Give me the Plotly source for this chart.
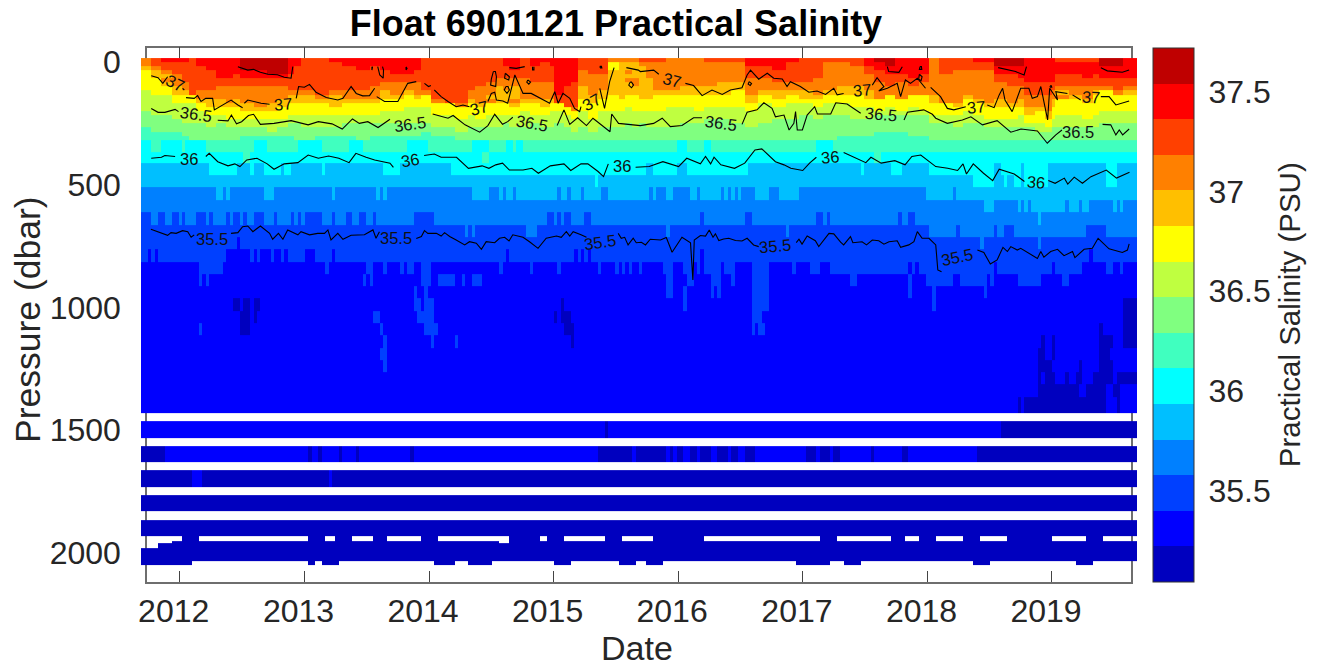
import pandas as pd
import plotly.graph_objects as go

# ---------- data ----------
N_PROFILES = 292
FIRST_PROFILE = "2011-09-08"
CYCLE_DAYS = 10

band_codes = "abcdefghijklmno"
band_colors = ["#0000bf", "#0000ff", "#0040ff", "#0080ff", "#00bfff", "#00ffff", "#40ffbf", "#80ff80",
               "#bfff40", "#ffff00", "#ffbf00", "#ff8000", "#ff4000", "#ff0000", "#bf0000"]
sal_min = 35.044
sal_max = 37.72
sal_ticks = [35.5, 36, 36.5, 37, 37.5]

# pressure edges (dbar) of the cells, top to bottom
upper_edges = [-16, 0, 16, 33, 49, 65, 81, 98, 114, 134, 151, 167, 183, 200, 216, 232, 248, 265, 285, 301, 318]
mid_edges = [365, 410, 460, 511, 562, 612, 664, 713, 762, 813, 863, 912, 962, 1013, 1063, 1112, 1164, 1214,
             1263, 1313, 1363, 1428]
deep_edges = [1462, 1532, 1564, 1629, 1662, 1731, 1764, 1829, 1866, 1931, 1951, 1960, 1980, 2033, 2049]

# upper 20 levels: profile starting at a cycle number, held until the next entry
upper_profiles = [
    (0, "llkjjjjjiiiiihhhhggg"), (3, "mmlkkjjjjiiiiihhhhgg"), (6, "nmmlklkjjiiiiihhhhgg"),
    (9, "nmmmlllkkjjiiiihhhgg"), (12, "nmmmmmllkjjiiiiihhhg"), (14, "mmmmmmmmmjjiiiiihhhh"),
    (16, "nnmmmmmmllkjjiiihhhh"), (19, "nnnmmmmmllkkjjiiihhh"), (22, "nnnnnmmlllkkjjiihhhh"),
    (25, "nnnnnmmllllkjjjiihhh"), (27, "nnnnmmmlllkkjjjiihhh"), (29, "ooonnmmllllkkjjiihhg"),
    (33, "ooonnmmlllllkjjiihhg"), (37, "oooonmmllllkkjjiiihg"), (40, "oooonmmlllkkjjjiihhg"),
    (43, "nnnnmmmmlkkjjjiihhhg"), (45, "nnmmmmmmlkkjjjiihhhh"), (47, "mmmmmmmmlkkjjjiiihhh"),
    (51, "mmmmmmmmmlkjjjiiihhg"), (55, "nmmmmmmmlkkkjjiiihhg"), (59, "nnmmmmmmllkjjjiihhhg"),
    (63, "nnnmmmmmllkjjjiihhhh"), (67, "nnmmmmmlllkjjjiihhhg"), (70, "nnnmmmllkkjjjiiihhhg"),
    (73, "nnnnmmlllkjjjiiihhhg"), (77, "nnnnmmllkjjjiiiihhhg"), (80, "nnnmmmlllkjjiiiihhhg"),
    (82, "mmmmmmmmljjjiiiihhgg"), (85, "mmmmmmmmmmljjjiiihhg"), (89, "mmmmmmmmmmmjjjiiihhg"),
    (92, "mmmmmmmmmmmljjjiiihh"), (96, "mmmmmmmmllkjjjiiihhh"), (98, "mmmmmmmllllkjjjiihhh"),
    (101, "mmmmmmlllkljjjiiihhh"), (104, "mmmmmllkkkkjjjiiihhh"), (106, "nnmmmlllkkkjjjiihhhh"),
    (108, "nnnmmllkkklkjjiiihhh"), (111, "mmmmmlllllkjjiiiihhh"), (114, "nnmmmmllllkjjjiihhhh"),
    (117, "nmmmmmllllkkjjiiihhh"), (120, "nnmmmmllllkjjiiiihhh"), (121, "nnnnnnnnnmmjjiiihhhh"),
    (124, "nnnnnnnmmmmmjjiiihhh"), (126, "nnnnnnmmmmmmljjiiihh"), (128, "mmmllllkkkjjjiiiihhh"),
    (131, "mmmmlllllkkjjjjiiihh"), (134, "mmmmllllkkjjjiiiihhh"), (137, "ljjkkkkkkjjjjiiiihhh"),
    (140, "lkkkkkkkkkjjjiiiihhh"), (142, "lkklklkkkjjjiiiihhhh"), (144, "lkkkkllkkjjjjiiiihhh"),
    (146, "mlkkkkkkkkjjjiiihhhh"), (148, "mllllkkkkkjjjiiiihhh"), (150, "mlllllllkjjjjiiiihhh"),
    (154, "llllllllkjjjiiiiihhh"), (158, "lllllllkkjjjiiiihhhh"), (162, "lllllllkkjjjjiiihhhh"),
    (165, "mllllllkkjjjiiihhhhh"), (169, "mlllllkkkjjjiiihhhhh"), (173, "mlllllkkjjjjiiiihhhh"),
    (177, "nnmmmllllkkjjiiiihhh"), (181, "nnmmmlllkjjiiiiihhhh"), (185, "nnnmmmllkkjjiiihhhhh"),
    (189, "nmmmmmllkjjiiiihhhhh"), (193, "mmmmmmllkkjiiihhhhhh"), (197, "mmmmmllllkjjiiihhhhh"),
    (200, "mlllllllkjjiiihhhhhh"), (204, "mllllllkkjjiiihhhhhg"), (208, "mmlllllkkjjjiiihhhhg"),
    (212, "nnmmllllkkjjiiihhhhg"), (215, "onnmmmlllljjjihhhhgg"), (218, "oonnmmmlljjjiihhhhgg"),
    (221, "nnnnmmlllljjjihhhhgg"), (225, "nnnnnmmlljjjiihhhhhg"), (228, "nnnnmmllljjjjihhhhhg"),
    (231, "lllllllllkkjjjiihhhh"), (234, "mmmmllllllljjjiihhhh"), (238, "mmmllllllllkjjiiihhh"),
    (241, "mmmllllllkjjjiiihhhh"), (244, "nmmlllllllkjjjiihhhh"), (247, "nmmllllllllkjjjiihhh"),
    (250, "oonnmmllllkkjjjiihhh"), (254, "oonnmmmllllkjjjiihhh"), (257, "oonnnmmlllkkjjiiihhh"),
    (259, "nnnnnnmmmlllkkjjihhh"), (262, "nnnnnnmmmlllkjjjiihh"), (265, "nnnnnnmmmllllkkjjihh"),
    (267, "nnnnnnmmllkkjjjiihhh"), (268, "mnnnmmmlkljjjjiiihhh"), (272, "mnnnmmmllkjjjjiiihhh"),
    (276, "mnnnnmmlllkjjjjiihhh"), (279, "mnnnmmmlkjjjjjiiihhh"), (281, "oonnnmmljjjjjiiihhhh"),
    (285, "oonnnmmmljjjjiiihhhh"), (288, "nnnnnmmlkjjjjiiihhhh"),
]

# 50 dbar levels: base band, then band:cycle ranges (end exclusive)
mid_levels = [
    "g f:0-3,6-12,13-19,33-37,46-53,61-65,78-84,97-102,107-109,110-112,157-160,165-167,198-203",
    "f g:30-32,100-102,215-217",
    "e f:20-28,32-33,36-41,42-44,53-54,71-76,91-148,150-157,160-178,211-212,220-223,231-250,252-258,259-266,283-286",
    "e f:133-134,244-250,253-254,256-258,259-266,283-286",
    "d e:22-24,25-26,36-39,56-57,69-70,71-72,97-102,105-106,107-109,110-122,123-125,126-129,130-135,137-149,150-151,"
    "154-156,161-163,164-170,171-172,173-174,175-176,180-184,187-193,230-238,239-292",
    "d e:247-250,257-258,259-260,261-271,272-275,276-278,285-286,287-288",
    "d c:0-3,5-7,9-11,12-13,16-19,20-21,25-26,27-29,30-31,33-36,39-40,44-45,46-47,48-53,56-57,60-62,64-66,68-69,80-86,"
    "119-121,122-123,124-126,130-132,164-165,177-179,198-200,201-202,222-223,225-227 e:263-264",
    "c d:95-96,97-98,113-116,154-155,189-190,231-239,240-250,251-253,256-277,283-292",
    "c d:246-247,263-264 b:28-29",
    "c b:2-3,4-5,25-32,33-34,35-38,39-41,42-43,48-51,56-57,107-108,127-128,129-130,131-132,164-165,278-279",
    "b c:17-24,54-55,66-68,71-72,76-77,78-80,82-85,105-106,114-115,122-123,134-135,139-140,141-142,143-144,146-147,"
    "153-156,159-162,163-164,165-170,171-174,179-184,191-192,196-199,202-225,226-227,228-250,251-267,268-276,"
    "283-285,287-288",
    "b c:17-18,19-20,65-66,67-68,82-85,87-92,94-95,97-100,154-155,155-156,160-162,167-168,168-169,169-170,173-174,"
    "179-184,208-210,225-226,230-238,240-248,249-250,257-264,270-272",
    "b c:80-81,83-84,154-155,155-156,159-160,167-168,169-170,179-184,225-226,232-233,247-248",
    "b c:80-82,83-86,159-160,179-184,232-233 a:27-29,30-32,33-35,123-124,288-292",
    "b c:68-70,81-86,179-182 a:29-32,33-34,121-122,123-126,288-292",
    "b c:17-18,70-71,83-87,179-180,181-183 a:29-32,124-127,281-282,288-292",
    "b c:71-72,85-86,92-93 a:126-127,264-265,267-268,281-285,288-292",
    "b c:70-72 a:263-265,267-268,281-284",
    "b c:71-72 a:263-267,275-276,281-285",
    "b a:263-264,265-268,271-272,274-276,279-285,286-292",
    "b a:263-275,277-283,285-286,286-287",
    "b a:257-258,259-283,286-287",
]

# deep levels, alternating with empty gaps ('.') in the record
deep_levels = [
    ".",
    "b a:136-137,252-292",
    ".",
    "b a:0-7,49-50,52-53,58-59,63-64,79-80,134-144,145-154,155-156,157-159,161-163,164-167,169-172,173-175,177-180,"
    "195-198,199-202,203-205,214-215,223-225,245-292",
    ".",
    "a b:15-18,55-56",
    ".",
    "a",
    ".",
    "a",
    ". a:12-17,49-54,57-62,68-72,82-87,108-117,119-124,136-141,150-165,199-204,220-224,228-233,241-246,254-267,277-282",
    "a .:0-9,105-108",
    "a .:0-5",
    "a",
    ". a:0-15,49-51,53-58,86-92,96-103,121-126,140-145,148-153,192-202,206-211,244-249,274-279",
]

# contour lines: cycle number and pressure (None breaks a line)
c355_cycle = [2.9, 5.4, 7.8, 8.8, 10.3, 12.2, 13.7, 14.7, 15.6, None,
              26.4, 28.4, 29.8, 31.3, 32.8, 35, 37.7, 38.6, 40.3, 41.6, 43, 46, 46.9, 49.4, 51.8, 53.8, 54.8, 55.7,
              57.7, 59.2, 61.6, 65.5, 68, 68.9, 69.9, None,
              80.7, 82.2, 83.1, 84.1, 86.6, 88, 89, 90.5, 92.4, 94.9, 96.3, 98.3, 99.8, 101.2, 103.7, 105.1, 106.6,
              107.9, 109, 112, 113.9, 116.4, 118.8, 121.8, 123.2, 124.7, 125.7, 126.7, 129, 130.6, None,
              139.9, 140.8, 141.8, 142.8, 144.3, 145.2, 146.7, 147.9, 149.3, 152.3, 154, 155.7, 158.6, 161.1, 161.8,
              162.2, 164, 165.5, 166.6, 167.7, 168.4, 169.4, 170.8, 172.3, 174.3, 176.2, 177.7, 179.6, 181.1, None,
              192.1, 192.9, 193.8, 195.3, 197.7, 198.7, 201.7, 203.1, 205.1, 206, 208, 208.7, 211.4, 212.7, 214.4,
              216.3, 217.8, 219.3, 221.7, 222.7, 225.1, 226.6, 227.6, 229, 231, 233, 233.6, 234.7, None,
              245.2, 247.1, 249, 251, 252.7, 254, 255, 256.9, 257.9, 260.3, 262.8, 263.8, 264.7, 266.7, 268.7, 270.6,
              273.1, 273.8, 276.5, 278.9, 280.6, 283.8, 287.7, 289.2, 289.7]
c355_dbar = [681, 695, 706, 695, 698, 687, 691, 714, 704, None,
             698, 695, 671, 668, 691, 668, 698, 722, 698, 722, 684, 704, 691, 704, 698, 698, 684, 725,
             698, 722, 706, 704, 684, 718, 691, None,
             719, 711, 687, 698, 698, 709, 695, 711, 725, 745, 732, 738, 763, 732, 736, 718, 714,
             729, 704, 714, 732, 759, 718, 709, 714, 691, 709, 691, 704, 714, None,
             698, 718, 714, 745, 718, 736, 734, 745, 722, 725, 715, 775, 714, 736, 888,
             725, 707, 709, 684, 714, 700, 727, 721, 718, 727, 729, 718, 745, 752, None,
             736, 722, 742, 709, 728, 752, 698, 700, 734, 745, 711, 736, 732, 745, 725,
             728, 742, 732, 728, 755, 745, 732, 691, 718, 718, 745, 847, 854, None,
             766, 776, 823, 806, 755, 772, 752, 766, 759, 779, 800, 772, 795, 772, 763, 789,
             772, 797, 763, 759, 718, 761, 776, 766, 741]

c36_cycle = [3, 6, 7, 10, None,
             19, 20, 22.5, 25.5, 27.5, 29, 31, 34, 37, 39, 42, 46, 49, 52, 55, 58, 61, 63, 66, 68.5, 73, 74, None,
             83, 86, 88, 92.5, 96, 100, 102, 104, 106, 108, 112, 114.6, 116.5, 120, 124, 126, 129, 131, 134, 135.6,
             137, None,
             145, 149, 153, 157.6, 160, 164, 165.5, 167, 168, 170, 174, 177, 180, 182, 186, 188.5, 190.5, 194, 196,
             198, None,
             206, 212.5, 214, 217, 221, 224, 226, 228.6, 233, 236.5, 239.4, 241, 242, 244, 247, 249.7, 251.6, 256,
             259, None,
             266, 268, 270.7, 271.7, 273.6, 276, 278.5, 283, 286, 289.8]
c36_dbar = [392, 388, 381, 385, None,
            385, 372, 406, 423, 415, 426, 399, 392, 415, 437, 415, 410, 379, 392, 383, 392, 410, 372, 388, 399, 412,
            429, None,
            381, 375, 388, 388, 433, 423, 433, 419, 412, 440, 440, 433, 453, 423, 415, 442, 415, 415, 446, 467,
            415, None,
            429, 426, 406, 426, 392, 415, 385, 415, 388, 419, 433, 412, 358, 354, 406, 419, 433, 442, 412,
            388, None,
            369, 410, 388, 412, 402, 419, 385, 379, 426, 433, 442, 415, 456, 415, 453, 483, 437, 456,
            487, None,
            483, 494, 473, 497, 469, 494, 467, 440, 473, 449]

c365_cycle = [3, 5, 7, 10, 11, None,
              22.5, 25.5, 26.5, 28, 29.5, 31.5, 33, 35, 39, 44, 49, 52, 56, 59, 62, 64, 66.5, 69.5, 73, None,
              85.5, 90, 91.5, 95, 99.3, 101.7, 103.7, 106, 107.5, 109, None,
              122, 124, 125.7, 128, 130.6, 132.5, 137.5, 138, 140, 146.4, 150.3, 152.8, 155.2, 158.6, 162, 164.5, None,
              176.2, 177.7, 180.6, 182.6, 185, 186, 188.5, 190, 191.4, 191.9, 192.4, 193.9, 195.3, 197.5, 198.3,
              202.2, 203.7, 207, 211, None,
              223.7, 224.7, 229.5, 232, 233, 236.4, 240.8, 243.3, 246.7, 251, 255, 258, 262.8, 265.7, 268.2, 270, None,
              281.9, 284.3, 285.8, 286.8, 287.8, 289.7]
c365_dbar = [189, 205, 205, 193, 202, None,
             237, 240, 216, 252, 243, 218, 213, 254, 250, 239, 256, 243, 252, 273, 232, 250, 243, 267, 233, None,
             212, 229, 218, 256, 286, 259, 213, 254, 243, 225, None,
             259, 195, 254, 227, 259, 229, 284, 212, 250, 259, 250, 229, 263, 259, 227, 227, None,
             254, 205, 195, 166, 189, 223, 216, 277, 250, 202, 277, 277, 216, 182, 212,
             212, 166, 171, 209, None,
             236, 205, 195, 213, 229, 250, 236, 223, 256, 239, 286, 273, 281, 331, 297, 277, None,
             254, 256, 297, 277, 297, 273]

c37_cycle = [3, 5, 6.4, 7.8, None, 12.2, 12.7, None,
             13.2, 15.6, 16.6, 17.6, 19, 21, 21.5, 24, 26.4, 28.4, 29.8, None, 30.3, 31.3, 35.2, 37.7, None,
             45.5, 46.2, 47.9, 49.4, 51.3, 54.3, 57.7, 59.2, 61.6, 63.1, 65, 67, 68.5, None,
             69.1, 71.4, 75.3, 76.8, 78.2, 80.7, None, 83.1, 84.3, 85, None,
             86, 88, 90, 92.4, 94.4, 96.3, None,
             101.7, 102.7, 103.7, 104.2, 106.1, 107.5, 109.6, 111, 112, 114.4, 116.9, 119.8, 121.3, 122.3, 123.7,
             125.7, 127.1, 128.6, 129, None,
             134.5, 135.9, 137.4, 138.7, None, 142.3, 145.8, 146.4, 148.4, 150.3, 151.8, None,
             159.6, 162, 164.5, 167.4, 170.4, 172.8, 176.2, 177.7, 178.7, 181.1, 183.6, 185.5, 188, 189.4, 190.4,
             193.3, 195.8, 198.2, 200.7, 203.1, 204.1, 206, None,
             214.4, 215.8, 217.8, 216.3, 218.8, 221.7, 222.7, 224.1, 225.6, 227.6, 230, None,
             231.5, 234.4, 236.4, 238.3, 241.8, None,
             248.1, 250.1, 251.6, 252.6, 253.3, 255.4, 257.9, 260.3, 261.3, 262.8, 263.8, 265.8, 266.4, 268.7, 268.2,
             271.6, None, 273.1, 275.5, None, 281.4, 283.8, 285.8, 287.7, 289.7, None,
             28.4, 30, 31.3, 33, 35, 37.2, 40, 42, 44, 44.5, None, 108, 110, 112.5, None,
             218.8, 219.2, 222.2, 223.2, None, 251.3, 254, 256.4, 258.9, 259.6, None, 281.4, 283.3, 287.7, 289.7, None,
             67.7, 67.7, 67.9, None, 69.4, 70, 71, 71.1, 70.8, None, 77.7, 77.7, 78, 77.7, None,
             103.3, 102.7, 102.5, 104, 104.2, 103.9, 103.3, None, 106.8, 106.6, 107.8, 108, 106.8, None,
             107, 106.5, 107.3, 108, 107.6, 107, None, 113.4, 113.1, 113.7, 114.2, 113.4, None,
             114.8, 114.8, 115.2, 115.2, None, 134.5, 134.7, 135.1, 135, 134.5, None,
             143.4, 143, 143.8, 144.4, 143.8, 143.4, None, 228.4, 228.2, 228.9, 228.8, 228.4, None,
             228.2, 228, 228.7, 229, 228.2, None, 178.3, 178, 178.6, 179, 178.3, None,
             266.5, 266.6, 267, 266.9, 266.5]
c37_dbar = [56, 64, 87, 60, None, 107, 114, None,
            145, 148, 137, 161, 148, 148, 195, 175, 155, 175, 186, None, 168, 155, 168, 172, None,
            148, 100, 103, 91, 123, 145, 155, 148, 100, 128, 138, 137, 107, None,
            141, 161, 161, 121, 87, 80, None, 87, 100, 96, None,
            114, 141, 161, 182, 175, 182, None,
            161, 128, 123, 155, 159, 168, 53, 94, 128, 128, 148, 168, 121, 168, 128,
            148, 189, 202, 182, None,
            107, 189, 80, 23, None, 23, 33, 39, 36, 33, 50, None,
            87, 96, 137, 114, 132, 114, 105, 53, 33, 70, 46, 66, 69, 100, 80,
            100, 123, 118, 132, 107, 134, 128, None,
            94, 64, 100, 118, 107, 87, 141, 73, 87, 66, 107, None,
            103, 141, 189, 195, 182, None,
            175, 186, 134, 107, 155, 202, 107, 107, 148, 141, 100, 236, 107, 155, 121,
            128, None, 134, 155, None, 141, 141, 175, 168, 159, None,
            19, 28, 33, 30, 42, 50, 52, 62, 66, 19, None, 23, 26, 19, None,
            19, 39, 42, 19, None, 23, 33, 39, 53, 19, None, 23, 36, 42, 33, None,
            19, 33, 19, None, 19, 53, 66, 33, 19, None, 20, 32, 26, 20, None,
            39, 70, 94, 100, 60, 39, 39, None, 46, 66, 73, 60, 46, None,
            100, 114, 128, 114, 100, 100, None, 73, 82, 90, 82, 73, None,
            19, 32, 32, 19, None, 18, 24, 24, 18, 18, None,
            82, 94, 105, 94, 82, 82, None, 19, 30, 30, 19, 19, None,
            50, 70, 76, 60, 50, None, 80, 90, 96, 88, 80, None,
            97, 103, 103, 97, 97]

label_text = ["37", "37", "37", "37", "37", "37", "37", "37",
              "36.5", "36.5", "36.5", "36.5", "36.5", "36.5",
              "36", "36", "36", "36", "36",
              "35.5", "35.5", "35.5", "35.5", "35.5"]
label_cycle = [10, 41.6, 99, 132, 155.7, 211.4, 244.7, 278.4,
               16, 79, 114.6, 170, 216.8, 274.8,
               14, 79, 141, 202, 262.4,
               20.7, 74.8, 134.7, 185.8, 239.3]
label_dbar = [87, 172, 189, 161, 73, 114, 182, 141,
              213, 254, 250, 250, 213, 284,
              396, 399, 423, 385, 487,
              722, 718, 732, 749, 793]
label_angle = [25, -5, -15, -30, 15, -5, -5, 3,
               8, -8, 10, 8, 5, 0,
               0, -10, 0, -5, 5,
               0, 0, -8, -5, -12]

# ---------- build ----------
W, H = 1326, 671
FL, FR, FT, FB = 147, 1131, 47.7, 581.7   # frame
CL, CR = 141, 1137                       # extent of the colour cells
BAR_L, BAR_W = 1153, 41
TICK = "#262626"
FONT = "Liberation Sans"
FRAME = "#6e6e6e"


def date_of(cycle):
    if cycle is None:
        return None
    return pd.Timestamp(FIRST_PROFILE) + pd.Timedelta(days=cycle * CYCLE_DAYS)


step = (sal_max - sal_min) / len(band_codes)
value_of = {c: sal_min + step * (i + 0.5) for i, c in enumerate(band_codes)}
value_of["."] = None


def expand(spec):
    parts = spec.split()
    row = [value_of[parts[0]]] * N_PROFILES
    for part in parts[1:]:
        code, ranges = part.split(":")
        for r in ranges.split(","):
            a, b = r.split("-")
            for k in range(int(a), min(int(b), N_PROFILES)):
                row[k] = value_of[code]
    return row


z = [[None] * N_PROFILES for _ in range(20)]
for j, (start, profile) in enumerate(upper_profiles):
    end = upper_profiles[j + 1][0] if j + 1 < len(upper_profiles) else N_PROFILES
    for r in range(20):
        for k in range(start, end):
            z[r][k] = value_of[profile[r]]
z += [expand(s) for s in mid_levels]
z += [expand(s) for s in deep_levels]

y_edges = upper_edges + mid_edges + deep_edges
x_edges = [date_of(i) for i in range(N_PROFILES + 1)]

colorscale = []
for i, col in enumerate(band_colors):
    colorscale += [[i / len(band_colors), col], [(i + 1) / len(band_colors), col]]

fig = go.Figure()
fig.add_trace(go.Scatter(x=[None], y=[None], xaxis="x", yaxis="y", showlegend=False, hoverinfo="skip"))
fig.add_trace(go.Heatmap(
    x=x_edges, y=y_edges, z=z, xaxis="x2", yaxis="y2", zmin=sal_min, zmax=sal_max, colorscale=colorscale,
    hoverongaps=False,
    colorbar=dict(
        x=BAR_L / W, xanchor="left", xpad=0, y=1 - FT / H, yanchor="top", ypad=0,
        len=(FB - FT) / H, lenmode="fraction", thickness=BAR_W, thicknessmode="pixels",
        outlinecolor="#333333", outlinewidth=1, tickvals=sal_ticks,
        ticktext=["35.5", "36", "36.5", "37", "37.5"], ticks="outside", ticklen=8, tickcolor="rgba(0,0,0,0)",
        tickfont=dict(family=FONT, size=32, color=TICK),
        title=dict(text="Practical Salinity (PSU)", side="right", font=dict(family=FONT, size=29.5, color=TICK)),
    ),
))
for xs, ys in [(c355_cycle, c355_dbar), (c36_cycle, c36_dbar), (c365_cycle, c365_dbar), (c37_cycle, c37_dbar)]:
    fig.add_trace(go.Scatter(
        x=[date_of(v) for v in xs], y=ys, xaxis="x2", yaxis="y2", mode="lines", showlegend=False,
        connectgaps=False, line=dict(color="black", width=1.1),
    ))

annotations = [
    dict(x=date_of(c), y=p, xref="x2", yref="y2", text=t, textangle=a, showarrow=False,
         font=dict(family=FONT, size=16.5, color="#111111"))
    for t, c, p, a in zip(label_text, label_cycle, label_dbar, label_angle)
]
annotations += [
    dict(x=637 / W, y=1 - 648 / H, xref="paper", yref="paper", text="Date", showarrow=False,
         xanchor="center", yanchor="middle", font=dict(family=FONT, size=34, color=TICK)),
    dict(x=28 / W, y=1 - 320 / H, xref="paper", yref="paper", text="Pressure (dbar)", textangle=-90, showarrow=False,
         xanchor="center", yanchor="middle", font=dict(family=FONT, size=35.5, color=TICK)),
]

# small inward ticks on the colour bar
bar_ticks = [
    dict(type="line", xref="paper", yref="paper", x0=(BAR_L + BAR_W - 5) / W, x1=(BAR_L + BAR_W) / W,
         y0=1 - (FB - (v - sal_min) / (sal_max - sal_min) * (FB - FT)) / H,
         y1=1 - (FB - (v - sal_min) / (sal_max - sal_min) * (FB - FT)) / H,
         line=dict(color="#333333", width=1))
    for v in sal_ticks
]

left = pd.Timestamp("2012-01-01") - pd.Timedelta(days=(179.7 - FL) / 124.6 * 365.25)
right = pd.Timestamp("2012-01-01") + pd.Timedelta(days=(FR - 179.7) / 124.6 * 365.25)
cell_left = pd.Timestamp(FIRST_PROFILE)
cell_right = date_of(N_PROFILES)
y_range = [(FB - 62) / 0.2455, (FT - 62) / 0.2455]
y_domain = [1 - FB / H, 1 - FT / H]

fig.update_layout(
    width=W, height=H, margin=dict(l=0, r=0, t=0, b=0), autosize=False,
    paper_bgcolor="white", plot_bgcolor="rgba(0,0,0,0)",
    font=dict(family=FONT, color=TICK),
    title=dict(text="<b>Float 6901121 Practical Salinity</b>", x=616 / W, xanchor="center", y=1 - 23 / H,
               yanchor="middle", font=dict(family=FONT, size=36, color="black")),
    annotations=annotations,
    shapes=bar_ticks,
    xaxis=dict(
        domain=[FL / W, FR / W], range=[left, right], type="date", anchor="y", tick0="2012-01-01", dtick="M12",
        tickformat="%Y", ticks="inside", ticklen=11, tickcolor="#444444", showline=True, linecolor=FRAME,
        linewidth=1.5, mirror="ticks", showgrid=False, zeroline=False, layer="below traces", automargin=False,
        tickfont=dict(family=FONT, size=32, color=TICK), ticklabelstandoff=0, ticklabelshift=-6,
    ),
    yaxis=dict(
        domain=y_domain, range=y_range, anchor="x", tickvals=[0, 500, 1000, 1500, 2000], ticks="inside", ticklen=11,
        tickcolor="#444444", showline=True, linecolor=FRAME, linewidth=1.5, mirror="ticks", showgrid=False,
        zeroline=False, layer="below traces", ticklabelstandoff=18, automargin=False,
        tickfont=dict(family=FONT, size=32, color=TICK),
    ),
    xaxis2=dict(domain=[CL / W, CR / W], range=[cell_left, cell_right], type="date", anchor="y2", visible=False,
                automargin=False),
    yaxis2=dict(domain=y_domain, range=y_range, anchor="x2", visible=False, automargin=False),
)

fig.write_html("out.html", config={"displayModeBar": False},
               post_script="document.body.style.margin='0';document.body.style.overflow='hidden';")
